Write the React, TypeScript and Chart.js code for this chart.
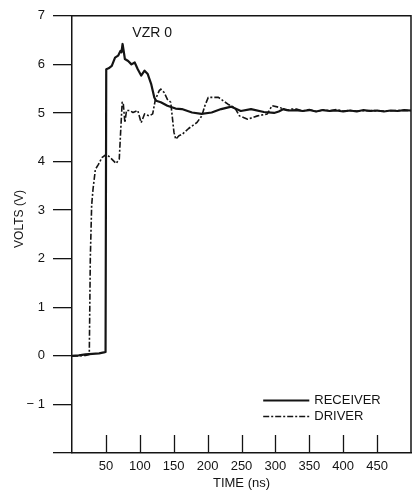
import React, { useEffect, useRef } from "react";
import { Chart, registerables } from "chart.js";

Chart.register(...registerables);

const FONT = "'Liberation Sans', Arial, sans-serif";
const INK = "#141414";

const xTickValues = [50, 100, 150, 200, 250, 300, 350, 400, 450];
const yTickLabels = ["", "− 1", "0", "1", "2", "3", "4", "5", "6", "7"]; // -2 .. 7

const receiverTime = [0, 10, 20, 30, 40, 47, 49.5, 50.5, 54, 58.7, 63.5, 68, 71.6, 73, 74.6, 76, 78, 82.8, 87.7, 92.5, 97, 102, 107, 111.7, 116.7, 121.4, 124, 131, 140.7, 152.8, 162, 177, 191, 206, 220, 235, 249, 264, 283, 298, 305, 312, 320, 330, 340, 350, 360, 370, 380, 390, 400, 410, 420, 430, 440, 450, 460, 470, 480, 490, 500];
const receiverVolts = [0, 0.01, 0.03, 0.04, 0.05, 0.07, 0.08, 5.9, 5.92, 5.97, 6.14, 6.18, 6.28, 6.25, 6.42, 6.3, 6.11, 6.07, 6.0, 6.04, 5.9, 5.77, 5.87, 5.8, 5.6, 5.32, 5.25, 5.22, 5.15, 5.09, 5.08, 5.01, 4.98, 5.01, 5.08, 5.13, 5.04, 5.08, 5.02, 5.0, 5.03, 5.08, 5.05, 5.06, 5.04, 5.06, 5.03, 5.06, 5.04, 5.05, 5.03, 5.05, 5.03, 5.06, 5.04, 5.05, 5.03, 5.05, 5.04, 5.06, 5.05];

const driverTime = [0, 10, 20, 25.5, 27, 29, 31, 34.5, 39, 44, 51, 58.7, 65, 69.7, 71.7, 74, 75.5, 78, 80.4, 85, 90, 97, 102, 107, 114, 119, 123, 128.7, 131, 136, 140.7, 145.6, 150.4, 153, 157.7, 162.5, 172, 184, 191.5, 196, 201, 216, 230, 240, 247, 259, 273.6, 288, 295, 307, 317, 324, 331, 340, 350, 360, 370, 380, 390, 400, 410, 420, 440, 460, 480, 500];
const driverVolts = [0, 0, 0.01, 0.03, 2.0, 3.1, 3.43, 3.84, 3.94, 4.08, 4.15, 4.05, 3.96, 4.05, 4.6, 5.22, 5.22, 4.8, 5.05, 5.05, 5.01, 5.05, 4.8, 4.98, 4.94, 4.98, 5.28, 5.46, 5.49, 5.42, 5.28, 5.22, 4.6, 4.46, 4.53, 4.56, 4.68, 4.8, 4.94, 5.15, 5.32, 5.32, 5.18, 5.11, 4.94, 4.87, 4.94, 4.98, 5.15, 5.11, 5.05, 5.08, 5.08, 5.04, 5.07, 5.03, 5.06, 5.05, 5.07, 5.04, 5.05, 5.04, 5.05, 5.04, 5.05, 5.05];

const seriesNames = ["RECEIVER", "DRIVER"];
const annotationText = "VZR 0";
const xTitle = "TIME (ns)";
const yTitle = "VOLTS (V)";

const decorPlugin = {
  id: "decor",
  afterDatasetsDraw(chart: any) {
    const { ctx, chartArea } = chart;
    const xs = chart.scales.x;
    const ys = chart.scales.y;
    ctx.save();
    ctx.strokeStyle = INK;
    ctx.lineWidth = 1.5;
    ctx.beginPath();
    ctx.moveTo(chartArea.left, chartArea.top);
    ctx.lineTo(chartArea.right, chartArea.top);
    ctx.lineTo(chartArea.right, chartArea.bottom);
    ctx.stroke();
    ctx.lineWidth = 1.3;
    ctx.beginPath();
    for (const v of xTickValues) {
      const px = Math.round(xs.getPixelForValue(v)) + 0.5;
      ctx.moveTo(px, chartArea.bottom);
      ctx.lineTo(px, chartArea.bottom - 18);
    }
    ctx.stroke();
    ctx.fillStyle = INK;
    ctx.font = `14px ${FONT}`;
    ctx.textBaseline = "middle";
    ctx.textAlign = "left";
    ctx.fillText(annotationText, xs.getPixelForValue(89), ys.getPixelForValue(6.65));
    ctx.font = `13px ${FONT}`;
    const lx0 = xs.getPixelForValue(282);
    const lx1 = xs.getPixelForValue(350);
    const rows = [ys.getPixelForValue(-0.9), ys.getPixelForValue(-1.23)];
    chart.data.datasets.forEach((ds: any, i: number) => {
      const y = Math.round(rows[i]) + 0.5;
      ctx.strokeStyle = INK;
      ctx.lineWidth = i === 0 ? 2 : 1.5;
      ctx.setLineDash(ds.borderDash || []);
      ctx.beginPath();
      ctx.moveTo(lx0, y);
      ctx.lineTo(lx1, y);
      ctx.stroke();
      ctx.setLineDash([]);
      ctx.fillText(ds.label, lx1 + 5, y);
    });
    ctx.translate(20, 219);
    ctx.rotate(-Math.PI / 2);
    ctx.textAlign = "center";
    ctx.font = `12px ${FONT}`;
    ctx.fillText(yTitle, 0, 0);
    ctx.restore();
  },
};

export default function App() {
  const ref = useRef<HTMLCanvasElement | null>(null);
  useEffect(() => {
    if (!ref.current) return;
    const chart = new Chart(ref.current, {
      type: "line",
      data: {
        datasets: [
          {
            label: seriesNames[0],
            data: receiverTime.map((t, i) => ({ x: t, y: receiverVolts[i] })),
            borderColor: INK,
            borderWidth: 2.2,
            borderJoinStyle: "round",
            borderCapStyle: "round",
            pointRadius: 0,
            tension: 0,
            fill: false,
          },
          {
            label: seriesNames[1],
            data: driverTime.map((t, i) => ({ x: t, y: driverVolts[i] })),
            borderColor: INK,
            borderWidth: 1.6,
            borderJoinStyle: "round",
            borderDash: [6, 2, 2, 2],
            pointRadius: 0,
            tension: 0,
            fill: false,
          },
        ],
      },
      options: {
        animation: false,
        responsive: false,
        maintainAspectRatio: false,
        layout: { padding: { top: 14, right: 2, left: 0, bottom: 0 } },
        plugins: { legend: { display: false }, tooltip: { enabled: false } },
        scales: {
          x: {
            type: "linear",
            min: 0,
            max: 500,
            grid: { display: false, drawTicks: false },
            border: { display: true, color: INK, width: 1.5 },
            afterFit: (s: any) => { s.height = 48; },
            ticks: {
              stepSize: 50,
              autoSkip: false,
              maxRotation: 0,
              padding: 6,
              color: INK,
              font: { family: FONT, size: 13 },
              callback: (v: any) => (xTickValues.includes(Number(v)) ? String(v) : ""),
            },
            title: {
              display: true,
              text: xTitle,
              color: INK,
              font: { family: FONT, size: 13 },
              padding: { top: 0, bottom: 10 },
            },
          },
          y: {
            type: "linear",
            min: -2,
            max: 7,
            grid: { drawOnChartArea: false, drawTicks: true, tickLength: 19, color: INK, lineWidth: 1.3 },
            border: { display: true, color: INK, width: 1.5 },
            afterFit: (s: any) => { s.width = 72; },
            ticks: {
              stepSize: 1,
              padding: 8,
              color: INK,
              font: { family: FONT, size: 13 },
              callback: (v: any) => yTickLabels[Math.round(Number(v)) + 2] ?? "",
            },
          },
        },
      },
      plugins: [decorPlugin],
    } as any);
    return () => chart.destroy();
  }, []);
  return (
    <div style={{ position: "fixed", left: 0, top: 0, width: 417, height: 501, background: "#fff" }}>
      <canvas ref={ref} width={417} height={501} style={{ display: "block" }} />
    </div>
  );
}
